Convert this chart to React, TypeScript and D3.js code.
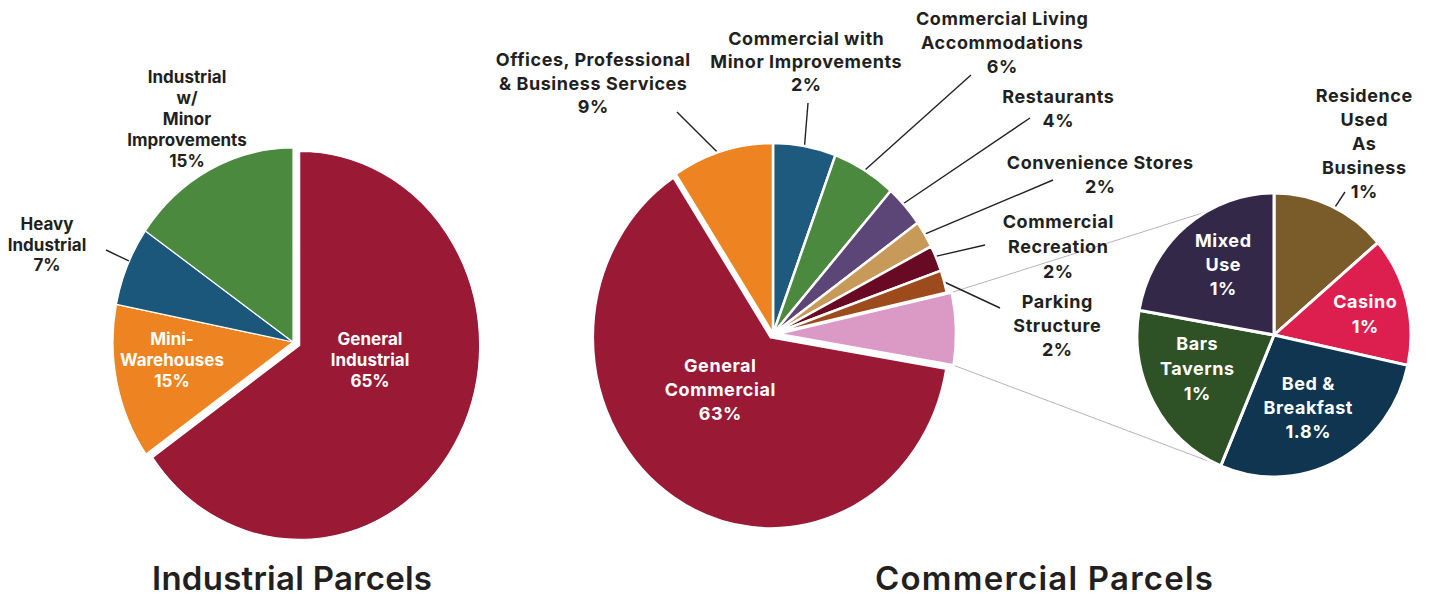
import React from 'react';
import * as d3 from 'd3';

// ---------- DATA ----------
const industrialCategories = ['General Industrial', 'Mini-Warehouses', 'Heavy Industrial', 'Industrial w/ Minor Improvements'];
const industrialValues = [65.2, 12.9, 6.6, 15.3];
const industrialPct = ['65%', '15%', '7%', '15%'];

const commercialCategories = [
  'Commercial with Minor Improvements',
  'Commercial Living Accommodations',
  'Restaurants',
  'Convenience Stores',
  'Commercial Recreation',
  'Parking Structure',
  'Other Commercial',
  'General Commercial',
  'Offices, Professional & Business Services',
];
const commercialValues = [5.7, 5.8, 3.6, 2.3, 2.2, 1.9, 6.1, 63.1, 9.2];
const commercialPct = ['2%', '6%', '4%', '2%', '2%', '2%', '', '63%', '9%'];

const otherCategories = ['Residence Used As Business', 'Casino', 'Bed & Breakfast', 'Bars Taverns', 'Mixed Use'];
const otherValues = [13.7, 14.7, 27.9, 21.4, 22.2];
const otherPct = ['1%', '1%', '1.8%', '1%', '1%'];

const titles = ['Industrial Parcels', 'Commercial Parcels'];

// ---------- STYLE / LAYOUT ----------
const industrialColors = ['#9A1935', '#EE8421', '#1B577B', '#4B893F'];
const commercialColors = ['#1D5A7E', '#4B893F', '#5C4677', '#C89A5A', '#690A24', '#9D4B1C', '#DB9AC6', '#9A1935', '#EE8421'];
const otherColors = ['#7A5C2B', '#DD1F4F', '#0F3550', '#2E5126', '#342849'];

const TXT = '#231F20';
const FONT = 'Inter, Roboto, "Liberation Sans", sans-serif';

type Label = { lines: string[]; x: number; y: number; color: string; lh: number; size: number; ls?: number };
type Leader = { idx: number; angle: number; end: [number, number] };

const indGeom = { cx: 293, cy: 342, rx: 180, ry: 194, stroke: 1.2, explode: [7.5, 0, 0, 0] };
const comGeom = { cx: 773, cy: 334, rx: 178, ry: 191, stroke: 2.5, explode: [0, 0, 0, 0, 0, 0, 5, 4, 0] };
const othGeom = { cx: 1274, cy: 335, rx: 137, ry: 142, stroke: 3, explode: [0, 0, 0, 0, 0] };

const indLabels: Label[] = [
  { lines: ['General', 'Industrial', industrialPct[0]], x: 370, y: 345, color: '#fff', lh: 21, size: 17 },
  { lines: ['Mini-', 'Warehouses', industrialPct[1]], x: 172, y: 345, color: '#fff', lh: 21, size: 17 },
  { lines: ['Heavy', 'Industrial', industrialPct[2]], x: 47, y: 230, color: TXT, lh: 20.5, size: 17 },
  { lines: ['Industrial', 'w/', 'Minor', 'Improvements', industrialPct[3]], x: 187, y: 83, color: TXT, lh: 21, size: 17 },
];
const indLeaders: Leader[] = [{ idx: 2, angle: 294.6, end: [106, 250] }];

const CLS = 0.55;
const comLabels: Label[] = [
  { lines: ['Commercial with', 'Minor Improvements', commercialPct[0]], x: 806, y: 45, color: TXT, lh: 23, size: 18, ls: CLS },
  { lines: ['Commercial Living', 'Accommodations', commercialPct[1]], x: 1002, y: 25, color: TXT, lh: 24, size: 18, ls: CLS },
  { lines: ['Restaurants', commercialPct[2]], x: 1058, y: 103, color: TXT, lh: 24, size: 18, ls: CLS },
  { lines: ['Convenience Stores', commercialPct[3]], x: 1100, y: 169, color: TXT, lh: 24, size: 18, ls: CLS },
  { lines: ['Commercial', 'Recreation', commercialPct[4]], x: 1058, y: 228, color: TXT, lh: 25, size: 18, ls: CLS },
  { lines: ['Parking', 'Structure', commercialPct[5]], x: 1057, y: 308, color: TXT, lh: 24, size: 18, ls: CLS },
  { lines: ['General', 'Commercial', commercialPct[7]], x: 720, y: 372, color: '#fff', lh: 24, size: 18, ls: CLS },
  { lines: ['Offices, Professional', '& Business Services', commercialPct[8]], x: 593, y: 66, color: TXT, lh: 23.5, size: 18, ls: CLS },
];
const comLeaders: Leader[] = [
  { idx: 8, angle: 341.9, end: [677, 112] },
  { idx: 0, angle: 10.2, end: [808, 103] },
  { idx: 1, angle: 31, end: [971, 75] },
  { idx: 2, angle: 47, end: [1030, 118] },
  { idx: 3, angle: 58.5, end: [1053, 180] },
  { idx: 4, angle: 66, end: [985, 245] },
  { idx: 5, angle: 74.2, end: [1000, 308] },
];

const othLabels: Label[] = [
  { lines: ['Residence', 'Used', 'As', 'Business', otherPct[0]], x: 1364, y: 102, color: TXT, lh: 24, size: 18, ls: CLS },
  { lines: ['Casino', otherPct[1]], x: 1365, y: 308, color: '#fff', lh: 25, size: 18, ls: CLS },
  { lines: ['Bed &', 'Breakfast', otherPct[2]], x: 1308, y: 390, color: '#fff', lh: 24, size: 18, ls: CLS },
  { lines: ['Bars', 'Taverns', otherPct[3]], x: 1197, y: 350, color: '#fff', lh: 25, size: 18, ls: CLS },
  { lines: ['Mixed', 'Use', otherPct[4]], x: 1223, y: 247, color: '#fff', lh: 24, size: 18, ls: CLS },
];
const othLeaders: Leader[] = [{ idx: 0, angle: 26.3, end: [1345, 192] }];

const titleLayout = [
  { x: 292, y: 590, width: 280 },
  { x: 1044, y: 590, width: 338 },
];

// ---------- HELPERS ----------
type Geom = { cx: number; cy: number; rx: number; ry: number; stroke: number; explode: number[] };

function pt(g: Geom, angDeg: number, k = 1, off: [number, number] = [0, 0]): [number, number] {
  const a = (angDeg * Math.PI) / 180;
  return [g.cx + off[0] + k * g.rx * Math.sin(a), g.cy + off[1] - k * g.ry * Math.cos(a)];
}

function layout(values: number[], g: Geom) {
  const arcs = d3.pie<number>().sort(null).value((d) => d)(values);
  return arcs.map((a, i) => {
    const mid = (a.startAngle + a.endAngle) / 2;
    const e = g.explode[i] || 0;
    const off: [number, number] = [e * Math.sin(mid), -e * Math.cos(mid)];
    return { a, off, i };
  });
}

function Pie({ values, colors, g, names }: { values: number[]; colors: string[]; g: Geom; names: string[] }) {
  const arcGen = d3.arc<d3.PieArcDatum<number>>().innerRadius(0).outerRadius(g.rx);
  const items = layout(values, g);
  return (
    <g>
      {items.map(({ a, off, i }) => (
        <g key={i} transform={`translate(${g.cx + off[0]},${g.cy + off[1]}) scale(1,${g.ry / g.rx})`}>
          <path
            d={arcGen(a) || ''}
            fill={colors[i]}
            stroke="#fff"
            strokeWidth={g.stroke}
            strokeLinejoin="round"
            vectorEffect="non-scaling-stroke"
          >
            <title>{names[i]}</title>
          </path>
        </g>
      ))}
    </g>
  );
}

function Labels({ labels }: { labels: Label[] }) {
  return (
    <g>
      {labels.map((l, i) => (
        <text
          key={i}
          x={l.x}
          y={l.y}
          textAnchor="middle"
          fill={l.color}
          fontFamily={FONT}
          fontWeight={700}
          fontSize={l.size}
          letterSpacing={l.ls || 0}
        >
          {l.lines.map((t, j) => (
            <tspan key={j} x={l.x + (l.ls || 0) / 2} y={l.y + j * l.lh}>
              {t}
            </tspan>
          ))}
        </text>
      ))}
    </g>
  );
}

function Leaders({ leaders, g, values }: { leaders: Leader[]; g: Geom; values: number[] }) {
  const items = layout(values, g);
  return (
    <g>
      {leaders.map((ld, i) => {
        const s = pt(g, ld.angle, 1, items[ld.idx].off);
        return <line key={i} x1={s[0]} y1={s[1]} x2={ld.end[0]} y2={ld.end[1]} stroke="#222" strokeWidth={1.4} />;
      })}
    </g>
  );
}

export default function App() {
  const comItems = layout(commercialValues, comGeom);
  const pink = comItems[6];
  const deg = (r: number) => (r * 180) / Math.PI;
  const pinkTop = pt(comGeom, deg(pink.a.startAngle), 1, pink.off);
  const pinkBot = pt(comGeom, deg(pink.a.endAngle), 1, pink.off);
  const subTop = pt(othGeom, 356, 1);
  const subBot = pt(othGeom, 203.5, 1);

  return (
    <svg
      width={1430}
      height={599}
      viewBox="0 0 1430 599"
      style={{ position: 'absolute', left: 0, top: 0, background: '#fff' }}
    >
      <rect x={0} y={0} width={1430} height={599} fill="#fff" />

      {/* connector lines from the "other" slice to the breakdown pie */}
      <line x1={pinkTop[0]} y1={pinkTop[1]} x2={subTop[0]} y2={subTop[1]} stroke="#b5b5b5" strokeWidth={1} />
      <line x1={pinkBot[0]} y1={pinkBot[1]} x2={subBot[0]} y2={subBot[1]} stroke="#b5b5b5" strokeWidth={1} />

      <Leaders leaders={indLeaders} g={indGeom} values={industrialValues} />
      <Leaders leaders={comLeaders} g={comGeom} values={commercialValues} />
      <Leaders leaders={othLeaders} g={othGeom} values={otherValues} />

      <Pie values={industrialValues} colors={industrialColors} g={indGeom} names={industrialCategories} />
      <Pie values={commercialValues} colors={commercialColors} g={comGeom} names={commercialCategories} />
      <Pie values={otherValues} colors={otherColors} g={othGeom} names={otherCategories} />

      <Labels labels={indLabels} />
      <Labels labels={comLabels} />
      <Labels labels={othLabels} />

      {titles.map((t, i) => (
        <text
          key={i}
          x={titleLayout[i].x}
          y={titleLayout[i].y}
          textAnchor="middle"
          fill={TXT}
          fontFamily={FONT}
          fontWeight={600}
          fontSize={33}
          textLength={titleLayout[i].width}
          lengthAdjust="spacing"
        >
          {t}
        </text>
      ))}
    </svg>
  );
}
